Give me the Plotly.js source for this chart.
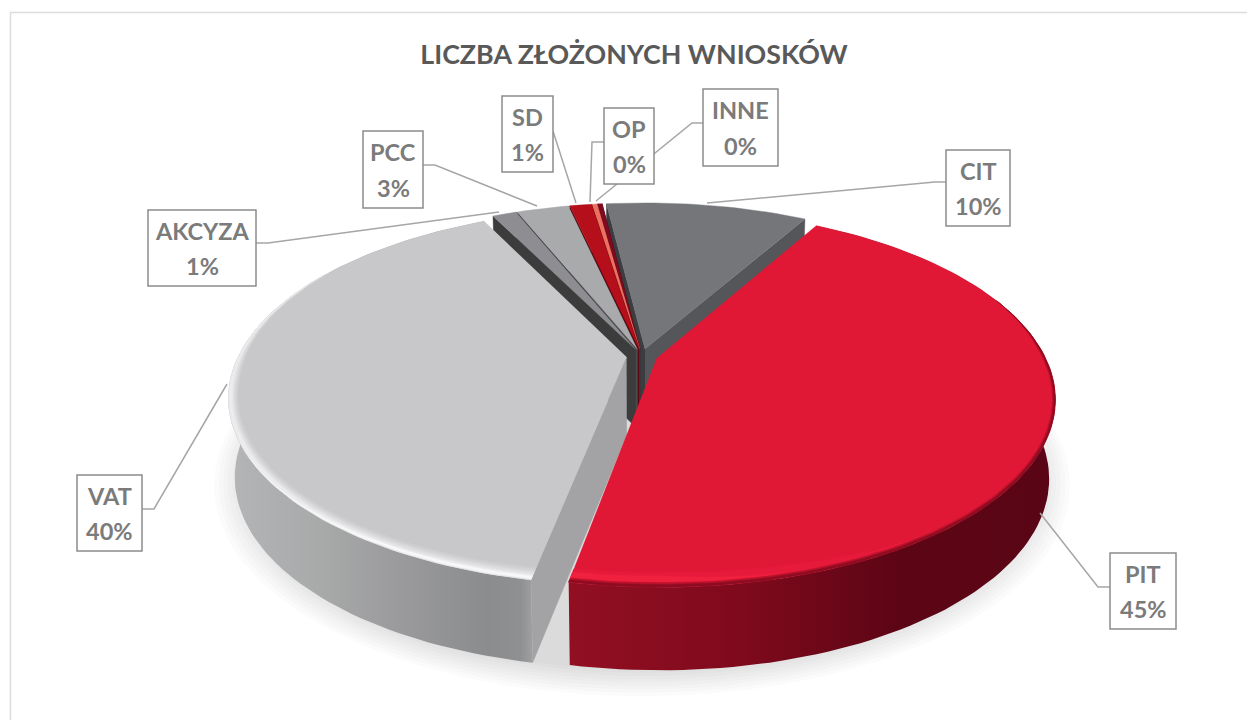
<!DOCTYPE html>
<html><head><meta charset="utf-8">
<script src="https://cdn.plot.ly/plotly-3.0.1.min.js"></script>
<style>html,body{margin:0;padding:0;background:#fff}#c{width:1247px;height:720px}</style>
</head><body><div id="c"></div>
<script>
// ---- data (clockwise from the PIT slice) ----
const categories = ["PIT","VAT","AKCYZA","PCC","SD","OP","INNE","CIT"];
const values     = [44.8, 39.7, 1.2, 2.6, 1.1, 0.25, 0.25, 10.1];
const chartTitle = "LICZBA ZŁOŻONYCH WNIOSKÓW";

// ---- styles ----
const topColors  = {PIT:"#e01836",VAT:"#c8c8ca",AKCYZA:"#8e8e92",PCC:"#a9aaac",SD:"#b50f1c",OP:"#ee7060",INNE:"#7d0a20",CIT:"#75767a"};
const faceStart  = {VAT:"#a3a3a5",AKCYZA:"#3c3c3c",PCC:"#4c4c50",SD:"#5a0612",OP:"#8a3028",INNE:"#4a0610",CIT:"#3c3d40"};
const faceEnd    = {AKCYZA:"#3c3c3c",PCC:"#4c4c50",SD:"#5a0612",OP:"#8a3028",INNE:"#4a0610",CIT:"#55565a"};
const wallScale  = {
  PIT:[[0,"#920f22"],[0.35,"#7f0a1c"],[0.55,"#6a0718"],[0.68,"#5c0515"],[1,"#5a0515"]],
  VAT:[[0,"#b4b5b7"],[0.3,"#a8a9a9"],[0.55,"#9b9b9d"],[0.85,"#8b8c8e"],[0.96,"#8f9092"],[1,"#a0a0a2"]]
};
// ---- labels: box [x0,y0,x1,y1] and leader polyline, in chart pixels ----
const labelBoxes = {
  PIT:[1110,553,1176,629], VAT:[77,475,142,551], AKCYZA:[148,210,256,286], PCC:[363,131,423,208],
  SD:[502,96,553,172], OP:[604,108,654,184], INNE:[703,89,778,166], CIT:[946,150,1010,226]
};
const leaders = {
  PIT:[[1110,587],[1098,587],[1040,513]], VAT:[[142,509],[154,509],[227,384]],
  AKCYZA:[[256,243],[268,243],[499,212]], PCC:[[423,165],[435,165],[537,206]],
  SD:[[553,131],[576,203]], OP:[[604,142],[592,142],[590,202]],
  INNE:[[703,123],[692,123],[596,201]], CIT:[[946,182],[935,182],[707,203]]
};
// ---- projection of the tilted disc ----
const CX=642, CY=356, RX=388, RY=179.5, PERSP=0.21, EXPLODE=0.04, START=29.5;
const rad=d=>d*Math.PI/180;
function proj(X,Y,low){
  const s=1/(1+PERSP*Y);
  let x=CX+RX*X*s, y=CY-RY*Y*s;
  if(low){ x=CX+(x-CX)*0.985; y+=78-5*Y; }
  return [x,y];
}
const total=values.reduce((a,b)=>a+b,0);
let acc=START;
const slices=categories.map((name,i)=>{
  const t0=acc, t1=acc+values[i]/total*360; acc=t1;
  const m=rad((t0+t1)/2);
  return {name,value:values[i],t0,t1,ox:EXPLODE*Math.sin(m),oy:EXPLODE*Math.cos(m)};
});
const byName=Object.fromEntries(slices.map(s=>[s.name,s]));
function rim(s,t,rho,low){ return proj(s.ox+rho*Math.sin(rad(t)), s.oy+rho*Math.cos(rad(t)), low); }
function apex(s,low){ return proj(s.ox,s.oy,low); }
function arc(s,a,b,rhoFn,low){
  const n=Math.max(4,Math.ceil(Math.abs(b-a)/1.5)), out=[];
  for(let i=0;i<=n;i++){ const t=a+(b-a)*i/n; out.push(rim(s,t,rhoFn?rhoFn(t):1,low)); }
  return out;
}
const traces=[];
function poly(pts,color,grad,name){
  const tr={type:"scatter",mode:"lines",x:pts.map(p=>p[0]),y:pts.map(p=>p[1]),fill:"toself",
    line:{width:grad?0:0.4,color:color||"rgba(0,0,0,0)"},hoverinfo:"skip",showlegend:false};
  if(grad) tr.fillgradient={type:"horizontal",colorscale:grad}; else tr.fillcolor=color;
  if(name) tr.name=name;
  traces.push(tr);
}
// soft shadow under the disc
for(let k=0;k<9;k++){
  const rho=1.09-k*0.011, pts=[];
  for(let t=0;t<=360;t+=3) pts.push(proj(rho*Math.sin(rad(t)),rho*Math.cos(rad(t)),true));
  poly(pts.map(p=>[p[0],p[1]+3]),"rgba(0,0,0,0.016)");
}
// slices, back to front
["CIT","INNE","OP","SD","PCC","AKCYZA","VAT","PIT"].forEach(n=>{
  const s=byName[n];
  if(wallScale[n]){
    poly(arc(s,s.t0,s.t1).concat(arc(s,s.t1,s.t0,null,true)),null,wallScale[n],n+" wall");
  }
  [[s.t1,faceEnd[n]],[s.t0,faceStart[n]]].forEach(([t,c])=>{
    if(c) poly([apex(s),rim(s,t,1),rim(s,t,1,true),apex(s,true)],c);
  });
  poly([apex(s)].concat(arc(s,s.t0,s.t1)),topColors[n],null,n);
});
// bevel strips on the rim: width in pixels stays even round the ellipse
function strip(s,a,b,fadeA,fadeB,inner,outer,color){
  const f=t=>{
    const e=Math.max(0,Math.min(1,fadeA?(t-a)/fadeA:1,fadeB?(b-t)/fadeB:1));
    return e*(1-0.55*Math.abs(Math.sin(rad(t))));
  };
  poly(arc(s,a,b,t=>1-outer*f(t)).concat(arc(s,b,a,t=>1-inner*f(t))),color);
}
const V=byName.VAT, P=byName.PIT;
strip(V,V.t0,300,0,35,0.050,0,"#cdcdcf");
strip(V,V.t0,300,0,35,0.042,0,"#d3d3d5");
strip(V,V.t0,300,0,35,0.034,0,"#dbdbdd");
strip(V,V.t0,300,0,35,0.026,0,"#e3e3e5");
strip(V,V.t0,295,0,35,0.019,0.002,"#ececee");
strip(V,V.t0,240,0,30,0.014,0.004,"#f7f7f8");
strip(P,135,P.t1,30,0,0.052,0.012,"#e61a3a");
strip(P,150,P.t1,30,0,0.040,0.016,"#f0203f");
strip(P,70,P.t1,18,0,0.016,0,"#bb112c");
strip(P,70,P.t1,18,0,0.009,0,"#8e0c22");

// leader lines
categories.forEach(n=>{
  traces.push({type:"scatter",mode:"lines",x:leaders[n].map(p=>p[0]),y:leaders[n].map(p=>p[1]),
    line:{color:"#a6a6a6",width:1.5},hoverinfo:"skip",showlegend:false,name:n+" leader"});
});
// data labels: a framed box with two lines of text
const labelFont={family:"Lato, Carlito, sans-serif",size:23.5,color:"#7b7b7b"};
const boxShapes=slices.map(s=>{
  const b=labelBoxes[s.name];
  return {type:"rect",xref:"x",yref:"y",x0:b[0],y0:b[1],x1:b[2],y1:b[3],fillcolor:"#ffffff",
    line:{color:"#8c8c8c",width:1.5},layer:"above"};
});
const annotations=[];
slices.forEach(s=>{
  const b=labelBoxes[s.name], xm=(b[0]+b[2])/2, h=b[3]-b[1];
  [["<b>"+s.name+"</b>",0.276],["<b>"+Math.round(s.value/total*100)+"%</b>",0.737]].forEach(([text,f])=>{
    annotations.push({xref:"x",yref:"y",x:xm,y:b[1]+h*f,xanchor:"center",yanchor:"middle",showarrow:false,text,font:labelFont});
  });
});
const layout={
  width:1247,height:720,margin:{l:0,r:0,t:0,b:0},paper_bgcolor:"#ffffff",plot_bgcolor:"#ffffff",showlegend:false,
  title:{text:"<b>"+chartTitle+"</b>",x:634/1247,xref:"paper",xanchor:"center",y:1-55/720,yref:"paper",yanchor:"middle",
    font:{family:"Lato, Carlito, sans-serif",size:26.8,color:"#595959"}},
  xaxis:{range:[0,1247],visible:false,fixedrange:true},
  yaxis:{range:[720,0],visible:false,fixedrange:true},
  shapes:[{type:"path",xref:"x",yref:"y",path:"M10.5,720 L10.5,12.5 L1247,12.5",line:{color:"#dcdcdc",width:1.5},layer:"below"}].concat(boxShapes),
  annotations
};
Plotly.newPlot("c",traces,layout,{displayModeBar:false,staticPlot:true});
</script></body></html>
